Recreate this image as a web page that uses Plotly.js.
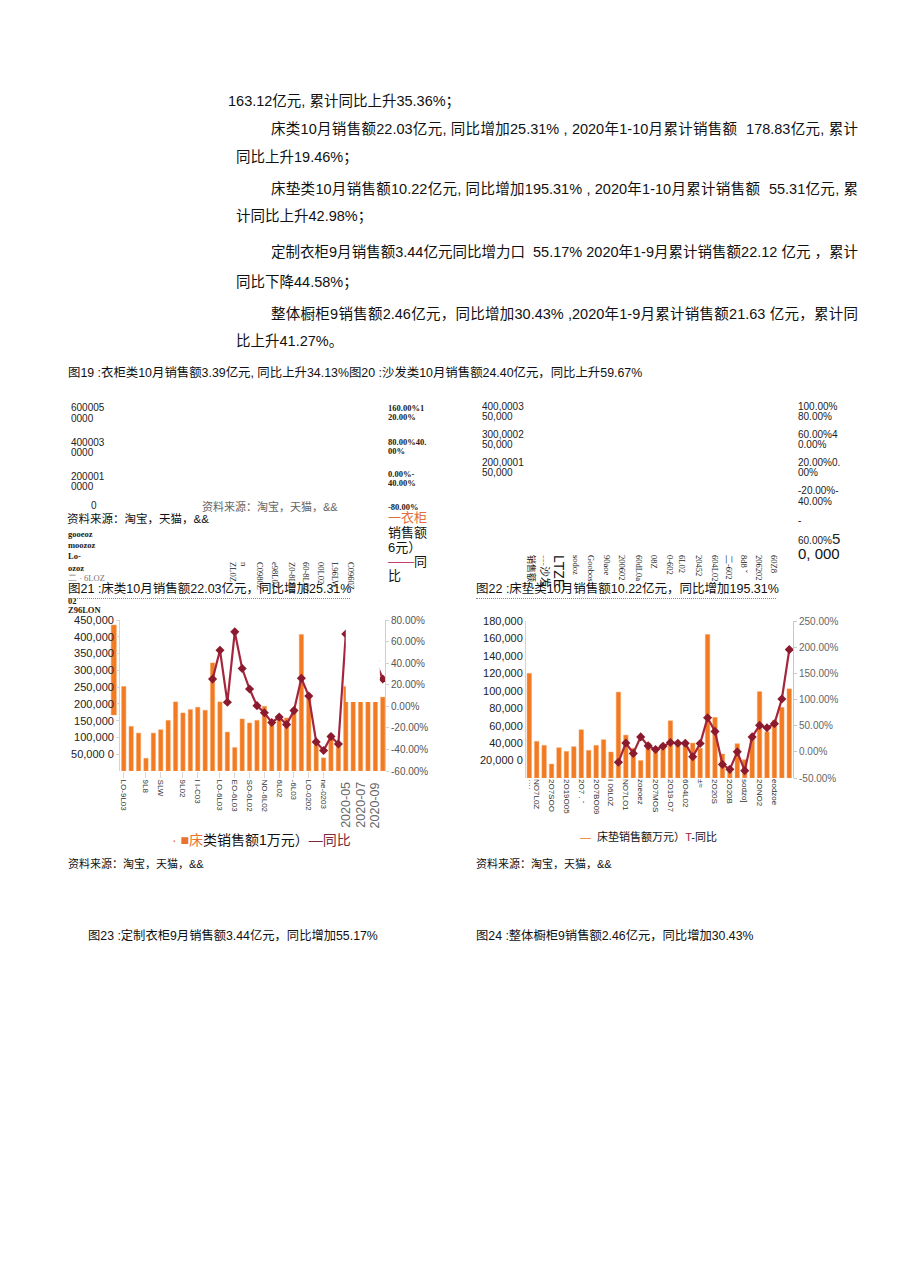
<!DOCTYPE html>
<html><head><meta charset="utf-8">
<script src="https://cdn.plot.ly/plotly-3.0.1.min.js"></script>
<style>
body{margin:0;background:#fff;width:920px;height:1275px;position:relative;overflow:hidden;font-family:"Liberation Sans","Noto Sans CJK SC",sans-serif;color:#111;}
.t{position:absolute;white-space:nowrap;line-height:1;}
.b{font-size:14.5px;color:#111;}
.j{text-align:justify;text-align-last:justify;}
.ax{font-size:10px;color:#222;}
.sf{font-family:"Liberation Serif","DejaVu Serif",serif;font-weight:bold;font-size:8.5px;color:#222;}
.rot{transform-origin:0 0;transform:rotate(90deg);}
.chart{position:absolute;width:380px;height:250px;}
</style></head><body>

<div class="t b" style="left:228px;top:94px;">163.12亿元, 累计同比上升35.36%；</div>
<div class="t b j" style="left:271px;top:122px;width:587px;">床类10月销售额22.03亿元, 同比增加25.31% , 2020年1-10月累计销售额&nbsp; 178.83亿元, 累计</div>
<div class="t b" style="left:236px;top:150px;">同比上升19.46%；</div>
<div class="t b j" style="left:271px;top:182px;width:587px;">床垫类10月销售额10.22亿元, 同比增加195.31% , 2020年1-10月累计销售额&nbsp; 55.31亿元, 累</div>
<div class="t b" style="left:236px;top:209px;">计同比上升42.98%；</div>
<div class="t b j" style="left:271px;top:245px;width:587px;">定制衣柜9月销售额3.44亿元同比增力口&nbsp; 55.17% 2020年1-9月累计销售额22.12 亿元 ，累计</div>
<div class="t b" style="left:236px;top:275px;">同比下降44.58%；</div>
<div class="t b j" style="left:271px;top:307px;width:587px;">整体橱柜9销售额2.46亿元，同比增加30.43% ,2020年1-9月累计销售额21.63 亿元，累计同</div>
<div class="t b" style="left:236px;top:334px;">比上升41.27%。</div>

<div class="t" style="left:68px;top:367px;font-size:12.4px;">图19 :衣柜类10月销售额3.39亿元, 同比上升34.13%图20 :沙发类10月销售额24.40亿元，同比上升59.67%</div>

<!-- remnants of figure 19 -->
<div class="t ax" style="left:71px;top:403px;">600005</div>
<div class="t ax" style="left:71px;top:414px;">0000</div>
<div class="t ax" style="left:71px;top:438px;">400003</div>
<div class="t ax" style="left:71px;top:448px;">0000</div>
<div class="t ax" style="left:71px;top:472px;">200001</div>
<div class="t ax" style="left:71px;top:482px;">0000</div>
<div class="t ax" style="left:91px;top:501px;">0</div>
<div class="t sf" style="left:388px;top:404px;">160.00%1</div>
<div class="t sf" style="left:388px;top:413px;">20.00%</div>
<div class="t sf" style="left:388px;top:438px;">80.00%40.</div>
<div class="t sf" style="left:388px;top:447px;">00%</div>
<div class="t sf" style="left:388px;top:470px;">0.00%-</div>
<div class="t sf" style="left:388px;top:479px;">40.00%</div>
<div class="t sf" style="left:388px;top:503px;">-80.00%</div>
<div class="t" style="left:202px;top:502px;font-size:11px;color:#666;">资料来源：淘宝，天猫，&amp;&amp;</div>
<div class="t sf" style="left:68px;top:530px;">gooeoz</div>
<div class="t sf" style="left:68px;top:541px;">moozoz</div>
<div class="t sf" style="left:68px;top:552px;">Lo-</div>
<div class="t sf" style="left:68px;top:564px;">ozoz</div>
<div class="t sf" style="left:68px;top:574px;font-weight:normal;color:#777;">二 · 6LOZ</div>
<div class="t sf" style="left:68px;top:597px;">02</div>
<div class="t sf" style="left:68px;top:606px;">Z96LON</div>
<div class="t" style="left:67px;top:514px;font-size:11.5px;">资料来源：淘宝，天猫，&amp;&amp;</div>
<div class="t" style="left:388px;top:511px;font-size:13px;color:#E0703C;">一衣柜</div>
<div class="t" style="left:388px;top:526px;font-size:13px;">销售额</div>
<div class="t" style="left:388px;top:541px;font-size:13px;">6元）</div>
<div class="t" style="left:388px;top:555px;font-size:13px;"><span style="color:#C0406A;">——</span>同</div>
<div class="t" style="left:388px;top:569px;font-size:13px;">比</div>
<div class="t sf rot" style="left:237px;top:562px;font-weight:normal;">ZL0Z</div>
<div class="t sf rot" style="left:248px;top:562px;font-weight:normal;">n</div>
<div class="t sf rot" style="left:264px;top:562px;font-weight:normal;">C0980Z</div>
<div class="t sf rot" style="left:279px;top:562px;font-weight:normal;">e98L0Z</div>
<div class="t sf rot" style="left:296px;top:562px;font-weight:normal;">Z0-8L0Z</div>
<div class="t sf rot" style="left:310px;top:562px;font-weight:normal;">60-8L0Z</div>
<div class="t sf rot" style="left:325px;top:562px;font-weight:normal;">00L02</div>
<div class="t sf rot" style="left:339px;top:562px;font-weight:normal;">L96LW</div>
<div class="t sf rot" style="left:355px;top:562px;font-weight:normal;">C0960Z</div>

<!-- remnants of figure 20 -->
<div class="t ax" style="left:482px;top:402px;">400,0003</div>
<div class="t ax" style="left:482px;top:412px;">50,000</div>
<div class="t ax" style="left:482px;top:430px;">300,0002</div>
<div class="t ax" style="left:482px;top:440px;">50,000</div>
<div class="t ax" style="left:482px;top:458px;">200,0001</div>
<div class="t ax" style="left:482px;top:468px;">50,000</div>
<div class="t ax" style="left:798px;top:402px;">100.00%</div>
<div class="t ax" style="left:798px;top:412px;">80.00%</div>
<div class="t ax" style="left:798px;top:430px;">60.00%4</div>
<div class="t ax" style="left:798px;top:440px;">0.00%</div>
<div class="t ax" style="left:798px;top:458px;">20.00%0.</div>
<div class="t ax" style="left:798px;top:468px;">00%</div>
<div class="t ax" style="left:798px;top:486px;">-20.00%-</div>
<div class="t ax" style="left:798px;top:497px;">40.00%</div>
<div class="t ax" style="left:798px;top:516px;">-</div>
<div class="t ax" style="left:798px;top:531px;">60.00%<span style="font-size:15px;">5</span></div>
<div class="t" style="left:798px;top:546px;font-size:15px;">0, 000</div>
<div class="t rot" style="left:535px;top:555px;font-size:9px;">销售额</div>
<div class="t rot" style="left:550px;top:555px;font-size:11px;"><span style="color:#F07A22;">---</span>沙发</div>
<div class="t rot" style="left:566px;top:555px;font-size:14px;">LTZE</div>
<div class="t sf rot" style="left:580px;top:555px;font-weight:normal;">sodoz</div>
<div class="t sf rot" style="left:595px;top:555px;font-weight:normal;">Goobos</div>
<div class="t sf rot" style="left:611px;top:555px;font-weight:normal;">90aoe</div>
<div class="t sf rot" style="left:626px;top:555px;font-weight:normal;">200602</div>
<div class="t sf rot" style="left:643px;top:555px;font-weight:normal;">60dL0a</div>
<div class="t sf rot" style="left:658px;top:555px;font-weight:normal;">08Z</div>
<div class="t sf rot" style="left:674px;top:555px;font-weight:normal;">0-602</div>
<div class="t sf rot" style="left:686px;top:555px;font-weight:normal;">6L02</div>
<div class="t sf rot" style="left:703px;top:555px;font-weight:normal;">20452</div>
<div class="t sf rot" style="left:719px;top:555px;font-weight:normal;">604L02</div>
<div class="t sf rot" style="left:733px;top:555px;font-weight:normal;">二-602</div>
<div class="t sf rot" style="left:748px;top:555px;font-weight:normal;">8d8 ˇ</div>
<div class="t sf rot" style="left:763px;top:555px;font-weight:normal;">206202</div>
<div class="t sf rot" style="left:778px;top:555px;font-weight:normal;">60Z8</div>

<div id="bed" class="chart" style="left:60px;top:600px;"></div>
<div id="mat" class="chart" style="left:470px;top:600px;"></div>

<div class="t" style="left:68px;top:583px;font-size:12.5px;">图21 :床类10月销售额22.03亿元，同比增加25.31%</div>
<div style="position:absolute;left:68px;top:598px;width:282px;border-top:1px dotted #888;"></div>
<div class="t" style="left:476px;top:583px;font-size:12.5px;">图22 :床垫类10月销售额10.22亿元，同比增加195.31%</div>
<div style="position:absolute;left:476px;top:598px;width:300px;border-top:1px dotted #888;"></div>

<div class="t" style="left:172px;top:833px;font-size:14px;"><span style="color:#E07040;">·&nbsp;</span><span style="color:#E8722E;">■床</span>类销售额1万元）<span style="color:#7A2A3A;">—同比</span></div>
<div class="t" style="left:580px;top:832px;font-size:11px;"><span style="color:#F07A22;">—</span>&nbsp; 床垫销售额万元）<span style="color:#A0233A;">T</span>-同比</div>

<div class="t" style="left:68px;top:859px;font-size:11px;">资料来源：淘宝，天猫，&amp;&amp;</div>
<div class="t" style="left:476px;top:859px;font-size:11px;">资料来源：淘宝，天猫，&amp;&amp;</div>

<div class="t" style="left:88px;top:930px;font-size:12.3px;">图23 :定制衣柜9月销售额3.44亿元，同比增加55.17%</div>
<div class="t" style="left:476px;top:930px;font-size:12.3px;">图24 :整体橱柜9销售额2.46亿元，同比增加30.43%</div>

<script>
// months 2017-11 .. 2020-10
const months = ["2017-11","2017-12","2018-01","2018-02","2018-03","2018-04","2018-05","2018-06","2018-07","2018-08","2018-09","2018-10",
 "2018-11","2018-12","2019-01","2019-02","2019-03","2019-04","2019-05","2019-06","2019-07","2019-08","2019-09","2019-10",
 "2019-11","2019-12","2020-01","2020-02","2020-03","2020-04","2020-05","2020-06","2020-07","2020-08","2020-09","2020-10"];

// 床类销售额 (万元)
const bedSales = [252000,133000,113000,38000,113000,123000,151000,206000,173000,183000,190000,181000,
 322000,206000,116000,70000,155000,143000,151000,193000,143000,158000,158000,188000,
 407000,222000,80000,39000,110000,75000,252000,262000,245000,238000,255000,220300];
// 床类同比 (%)
const bedYoY = [null,null,null,null,null,null,null,null,null,null,null,null,
 25.2,52,3.7,69,35,16,0.6,-6,-15,-10,-17,-4,
 26,9.5,-33,-41,-28,-35,67,55,45,48,42,25.31];
// stray bar fragment left of the axis (index position, base, top)
const bedStrayPos = [-1.35];
const bedStrayBase = [167000];
const bedStrayTop = [435000];

const bedTickIdx = [0,3,5,8,10,13,15,17,19,21,23,25,27];
const bedTickText = ["LO-9L03","9L8","SLW","9L02","I I-C03","LO-6L03","EO-6L03","SO-6L02","NO-6L02","6L02","-6L03","LO-0202","ne-0203"];
const bedBigLabels = ["2020-05","2020-07","2020-09"];
const bedYTicks = [50000,100000,150000,200000,250000,300000,350000,400000,450000];
const bedYText = ["50,000 0","100,000","150,000","200,000","250,000","300,000","350,000","400,000","450,000"];
const bedY2Ticks = [-60,-40,-20,0,20,40,60,80];

// 床垫类销售额 (万元)
const matSales = [120000,42000,37400,16000,34700,30500,35900,55300,31700,37400,43900,29800,
 98500,49200,34000,20000,40000,34000,36000,65600,40000,40000,40000,34000,
 164500,69500,27500,12000,39300,21000,47700,99000,53000,66000,81000,102200];
// 床垫类同比 (%)
const matYoY = [null,null,null,null,null,null,null,null,null,null,null,null,
 -20,17,-3,28.5,11.4,4.4,10.8,17.7,16.5,16.5,-9.5,15.8,
 65,39,-24,-33.5,0,-36,28.5,50.6,46,53.8,101,195.31];
const matTickIdx = [0,1,3,5,7,9,11,13,15,17,19,21,23,25,27,29,31,33];
const matTickText = ["····","NO7L0Z","2O7SOO","2O19O05","2O7 . ˇ","2O7BO09","I 06L0Z","NO7LO1","zoeoez","2O7MOS","2O19-O7","6O4L02","±≈","2O20S","2O20B","sodzo]","2ONO2","eodzoe"];
const matYTicks = [20000,40000,60000,80000,100000,120000,140000,160000,180000];
const matYText = ["20,000 0","40,000","60,000","80,000","100,000","120,000","140,000","160,000","180,000"];
const matY2Ticks = [-50,0,50,100,150,200,250];

const idx = months.map((m,i)=>i);
const FONT = "Liberation Sans, Arial, sans-serif";
const BAR = "#F27A22", BARLINE = "#F7A25E", LINE = "#A3263C", MARK = "#8C1A2E";
const pct = v => v.toFixed(2) + "%";

// ---- 图21 床类 ----
const bedTraces = [
 {type:"bar", x:idx, y:bedSales, width:0.58, marker:{color:BAR, line:{color:BARLINE,width:0.5}}, hoverinfo:"skip"},
 {type:"bar", x:bedStrayPos, base:bedStrayBase, y:bedStrayTop.map((t,i)=>t-bedStrayBase[i]), width:0.7, marker:{color:BAR, line:{color:BARLINE,width:0.5}}},
 {type:"scatter", mode:"lines+markers", x:idx, y:bedYoY, yaxis:"y2", line:{color:LINE,width:2.2}, marker:{symbol:"diamond",size:7,color:MARK}}
];
const bedLayout = {
 width:380, height:250, margin:{l:50,r:55,t:20,b:79},
 paper_bgcolor:"rgba(0,0,0,0)", plot_bgcolor:"rgba(0,0,0,0)",
 showlegend:false, barmode:"overlay", font:{family:FONT},
 xaxis:{range:[-1.86,35.3], tickmode:"array", tickvals:bedTickIdx, ticktext:bedTickText, tickangle:90,
  tickfont:{size:8,color:"#333",family:FONT}, ticks:"outside", ticklen:6, tickcolor:"#d8d8d8",
  showgrid:false, zeroline:false, showline:false},
 yaxis:{range:[0,450000], anchor:"free", position:0.033, tickmode:"array", tickvals:bedYTicks, ticktext:bedYText,
  tickfont:{size:11,color:"#222",family:FONT}, showline:true, linecolor:"#d4d4d4", ticks:"outside", ticklen:3, tickcolor:"#d4d4d4",
  showgrid:false, zeroline:false},
 yaxis2:{overlaying:"y", side:"right", range:[-60,80], tickmode:"array", tickvals:bedY2Ticks, ticktext:bedY2Ticks.map(pct),
  tickfont:{size:10,color:"#555",family:FONT}, showline:true, linecolor:"#cfcfcf", ticks:"outside", ticklen:3, tickcolor:"#cfcfcf",
  showgrid:false, zeroline:false},
 shapes:[{type:"rect", xref:"x", yref:"y", x0:30.0, x1:34.6, y0:206000, y1:450000, fillcolor:"#fff", line:{width:0}, layer:"above"}],
 annotations: bedBigLabels.map(m=>({x:months.indexOf(m), y:-0.06, xref:"x", yref:"paper", text:m, textangle:-90,
  showarrow:false, xanchor:"center", yanchor:"top", font:{size:12.5,color:"#666",family:FONT}}))
};
Plotly.newPlot("bed", bedTraces, bedLayout, {staticPlot:true, displayModeBar:false});

// ---- 图22 床垫类 ----
const matTraces = [
 {type:"bar", x:idx, y:matSales, width:0.6, marker:{color:BAR, line:{color:BARLINE,width:0.5}}},
 {type:"scatter", mode:"lines+markers", x:idx, y:matYoY, yaxis:"y2", line:{color:LINE,width:2.2}, marker:{symbol:"diamond",size:7,color:MARK}}
];
const matLayout = {
 width:380, height:250, margin:{l:56,r:57,t:21,b:72},
 paper_bgcolor:"rgba(0,0,0,0)", plot_bgcolor:"rgba(0,0,0,0)",
 showlegend:false, font:{family:FONT},
 xaxis:{range:[-0.44,35.5], tickmode:"array", tickvals:matTickIdx, ticktext:matTickText, tickangle:90,
  tickfont:{size:8,color:"#333",family:FONT}, ticks:"", showgrid:false, zeroline:false, showline:false},
 yaxis:{range:[0,180000], tickmode:"array", tickvals:matYTicks, ticktext:matYText,
  tickfont:{size:11,color:"#222",family:FONT}, showline:true, linecolor:"#d4d4d4", ticks:"", showgrid:false, zeroline:false},
 yaxis2:{overlaying:"y", side:"right", range:[-50,250], tickmode:"array", tickvals:matY2Ticks, ticktext:matY2Ticks.map(pct),
  tickfont:{size:10,color:"#666",family:FONT}, showline:true, linecolor:"#c8c8c8", ticks:"outside", ticklen:3, tickcolor:"#c8c8c8",
  showgrid:false, zeroline:false}
};
Plotly.newPlot("mat", matTraces, matLayout, {staticPlot:true, displayModeBar:false});
</script>
</body></html>
